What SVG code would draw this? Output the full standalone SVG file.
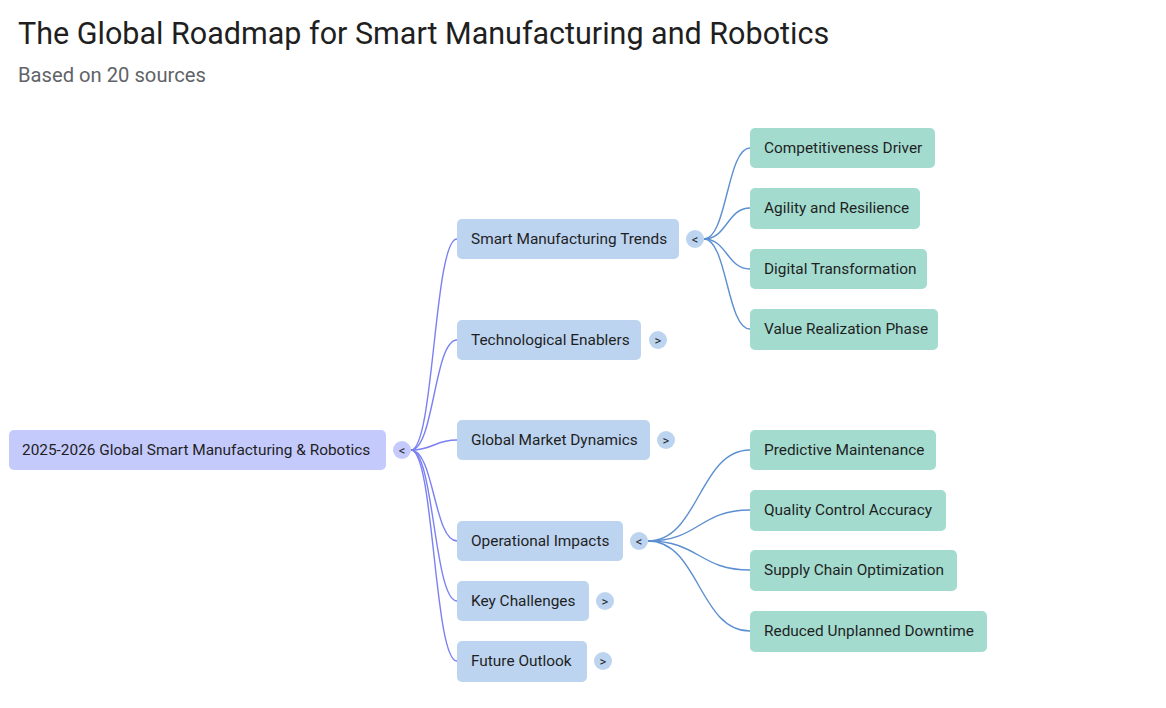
<svg xmlns="http://www.w3.org/2000/svg" width="1166" height="708" viewBox="0 0 1166 708">
<style>
.t{font-family:Roboto,"Liberation Sans",sans-serif;fill:#1f1f1f}
.title{font-size:30.5px}
.sub{font-size:20.2px;fill:#5f6368}
.lbl{font-size:15.4px;dominant-baseline:central}
.tog{font-size:13px;text-anchor:middle;dominant-baseline:central}
.root{fill:#c5cafd}
.l1{fill:#bcd4f0}
.l2{fill:#a3dccf}
.c1{fill:none;stroke:#7b80f2;stroke-width:1.4}
.c2{fill:none;stroke:#5b8fd0;stroke-width:1.4}
</style>
<rect width="1166" height="708" fill="#ffffff"/>
<text class="t title" x="18" y="44">The Global Roadmap for Smart Manufacturing and Robotics</text>
<text class="t sub" x="18" y="82">Based on 20 sources</text>
<g id="connectors">
<path class="c1" d="M411,450 C434,450 434,239 457,239"/>
<path class="c1" d="M411,450 C434,450 434,340 457,340"/>
<path class="c1" d="M411,450 C434,450 434,440 457,440"/>
<path class="c1" d="M411,450 C434,450 434,541 457,541"/>
<path class="c1" d="M411,450 C434,450 434,601 457,601"/>
<path class="c1" d="M411,450 C434,450 434,661 457,661"/>
<path class="c2" d="M704,239 C727,239 727,148 750,148"/>
<path class="c2" d="M704,239 C727,239 727,208 750,208"/>
<path class="c2" d="M704,239 C727,239 727,269 750,269"/>
<path class="c2" d="M704,239 C727,239 727,329 750,329"/>
<path class="c2" d="M648,541 C699,541 699,450 750,450"/>
<path class="c2" d="M648,541 C699,541 699,510 750,510"/>
<path class="c2" d="M648,541 C699,541 699,570 750,570"/>
<path class="c2" d="M648,541 C699,541 699,631 750,631"/>
</g>
<g id="root">
<rect class="root" x="9" y="430" width="377" height="40" rx="5"/>
<text class="t lbl" x="22" y="450">2025-2026 Global Smart Manufacturing &amp; Robotics</text>
<circle class="root" cx="402" cy="450" r="9"/>
<text class="t tog" x="402" y="450">&lt;</text>
</g>
<g id="n-trends">
<rect class="l1" x="457" y="219" width="222" height="40" rx="5"/>
<text class="t lbl" x="471" y="239">Smart Manufacturing Trends</text>
<circle class="l1" cx="695" cy="239" r="9"/>
<text class="t tog" x="695" y="239">&lt;</text>
</g>
<g id="n-enablers">
<rect class="l1" x="457" y="320" width="184" height="40" rx="5"/>
<text class="t lbl" x="471" y="340">Technological Enablers</text>
<circle class="l1" cx="658" cy="340" r="9"/>
<text class="t tog" x="658" y="340">&gt;</text>
</g>
<g id="n-market">
<rect class="l1" x="457" y="420" width="193" height="40" rx="5"/>
<text class="t lbl" x="471" y="440">Global Market Dynamics</text>
<circle class="l1" cx="666" cy="440" r="9"/>
<text class="t tog" x="666" y="440">&gt;</text>
</g>
<g id="n-ops">
<rect class="l1" x="457" y="521" width="166" height="40" rx="5"/>
<text class="t lbl" x="471" y="541">Operational Impacts</text>
<circle class="l1" cx="639" cy="541" r="9"/>
<text class="t tog" x="639" y="541">&lt;</text>
</g>
<g id="n-challenges">
<rect class="l1" x="457" y="581" width="132" height="40" rx="5"/>
<text class="t lbl" x="471" y="601">Key Challenges</text>
<circle class="l1" cx="605" cy="601" r="9"/>
<text class="t tog" x="605" y="601">&gt;</text>
</g>
<g id="n-outlook">
<rect class="l1" x="457" y="641" width="130" height="41" rx="5"/>
<text class="t lbl" x="471" y="661">Future Outlook</text>
<circle class="l1" cx="603" cy="661" r="9"/>
<text class="t tog" x="603" y="661">&gt;</text>
</g>
<g id="n-comp">
<rect class="l2" x="750" y="128" width="185" height="40" rx="5"/>
<text class="t lbl" x="764" y="148">Competitiveness Driver</text>
</g>
<g id="n-agility">
<rect class="l2" x="750" y="188" width="170" height="41" rx="5"/>
<text class="t lbl" x="764" y="208">Agility and Resilience</text>
</g>
<g id="n-digital">
<rect class="l2" x="750" y="249" width="177" height="40" rx="5"/>
<text class="t lbl" x="764" y="269">Digital Transformation</text>
</g>
<g id="n-value">
<rect class="l2" x="750" y="309" width="188" height="41" rx="5"/>
<text class="t lbl" x="764" y="329">Value Realization Phase</text>
</g>
<g id="n-predictive">
<rect class="l2" x="750" y="430" width="186" height="40" rx="5"/>
<text class="t lbl" x="764" y="450">Predictive Maintenance</text>
</g>
<g id="n-quality">
<rect class="l2" x="750" y="490" width="196" height="41" rx="5"/>
<text class="t lbl" x="764" y="510">Quality Control Accuracy</text>
</g>
<g id="n-supply">
<rect class="l2" x="750" y="550" width="207" height="41" rx="5"/>
<text class="t lbl" x="764" y="570">Supply Chain Optimization</text>
</g>
<g id="n-downtime">
<rect class="l2" x="750" y="611" width="237" height="41" rx="5"/>
<text class="t lbl" x="764" y="631">Reduced Unplanned Downtime</text>
</g>
</svg>
